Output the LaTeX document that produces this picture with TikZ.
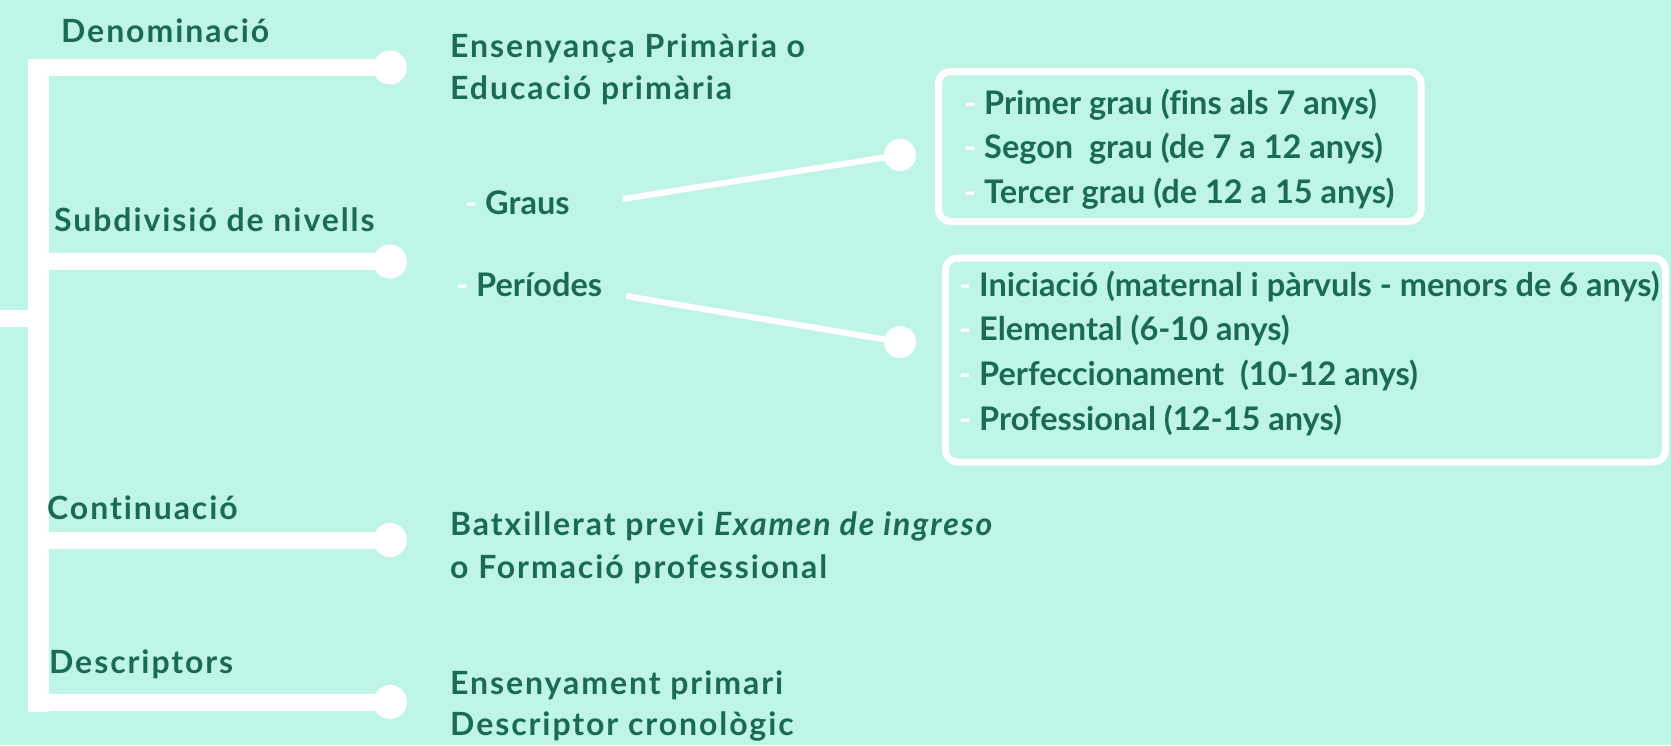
\documentclass[tikz,border=0pt]{standalone}
\usepackage{fontspec}
\setmainfont{Lato}[Ligatures=NoCommon]
\newfontfamily\latotrack{Lato}[LetterSpace=6, Ligatures=NoCommon]
\definecolor{mint}{HTML}{BFF5E6}
\definecolor{pine}{HTML}{1B6A55}
\tikzset{
  lbl/.style={anchor=base west, inner sep=0pt, text=pine,
    font=\latotrack\bfseries\fontsize{32}{43}\selectfont},
  itm/.style={anchor=base west, inner sep=0pt, text=pine,
    font=\bfseries\fontsize{32.5}{44}\selectfont},
  dot/.style={circle, fill=white, minimum size=34pt, inner sep=0pt},
  smalldot/.style={circle, fill=white, minimum size=32pt, inner sep=0pt},
  stem/.style={white, line width=17pt},
  twig/.style={white, line width=6pt},
  frame/.style={white, line width=7pt, rounded corners=12pt}
}
\newcommand{\wdash}{\textcolor{white}{-}~}
\begin{document}
\begin{tikzpicture}[x=1pt, y=-1pt]
\fill[mint] (0,0) rectangle (1671,745);
\useasboundingbox (0,0) rectangle (1671,745);
% bracket
\draw[white, line width=21pt] (38.5,59) -- (38.5,712);
\draw[stem] (0,318.5) -- (38.5,318.5);
\node[dot] (c1) at (390,67.5) {};
\node[dot] (c2) at (390,261.5) {};
\node[dot] (c3) at (390,540) {};
\node[dot] (c4) at (390,702) {};
\coordinate (j1) at (28,67.5);
\coordinate (j2) at (28,261.5);
\coordinate (j3) at (28,540);
\coordinate (j4) at (28,702);
\draw[stem] (j1) -- (c1.center);
\draw[stem] (j2) -- (c2.center);
\draw[stem] (j3) -- (c3.center);
\draw[stem] (j4) -- (c4.center);
% left labels
\node[lbl] (den) at (61,42) {Denominació};
\node[lbl] (sub) at (54,231) {Subdivisió de nivells};
\node[lbl] (con) at (47,519) {Continuació};
\node[lbl] (dsc) at (49,673) {Descriptors};
% values
\node[lbl] (ens) at (450,57) {Ensenyança Primària o};
\node[lbl] (edu) at (450,99) {Educació primària};
\node[lbl] (bat) at (450,535) {Batxillerat previ \textit{Examen de ingreso}};
\node[lbl] (fp) at (450,578) {o Formació professional};
\node[lbl] (prim) at (450,694) {Ensenyament primari};
\node[lbl] (cron) at (450,735) {Descriptor cronològic};
% levels
\node[itm] (gra) at (465,214) {\wdash Graus};
\node[itm] (per) at (456,296) {\wdash Períodes};
\node[smalldot] (g1) at (900,155) {};
\node[smalldot] (p1) at (900,342) {};
\coordinate (ga) at (623,199);
\coordinate (pa) at (626,296);
\draw[twig] (ga) -- (g1.center);
\draw[twig] (pa) -- (p1.center);
% boxes
\draw[frame] (938.5,71.5) rectangle (1421,221.5);
\draw[frame] (945.5,258) rectangle (1665.5,462);
\node[itm] (gr1) at (964,114) {\wdash Primer grau (fins als 7 anys)};
\node[itm] (gr2) at (964,158) {\wdash Segon~ grau (de 7 a 12 anys)};
\node[itm] (gr3) at (964,203) {\wdash Tercer grau (de 12 a 15 anys)};
\node[itm] (pe1) at (959,296) {\wdash Iniciació (maternal i pàrvuls - menors de 6 anys)};
\node[itm] (pe2) at (959,340) {\wdash Elemental (6-10 anys)};
\node[itm] (pe3) at (959,385) {\wdash Perfeccionament~ (10-12 anys)};
\node[itm] (pe4) at (959,430) {\wdash Professional (12-15 anys)};
\end{tikzpicture}
\end{document}
